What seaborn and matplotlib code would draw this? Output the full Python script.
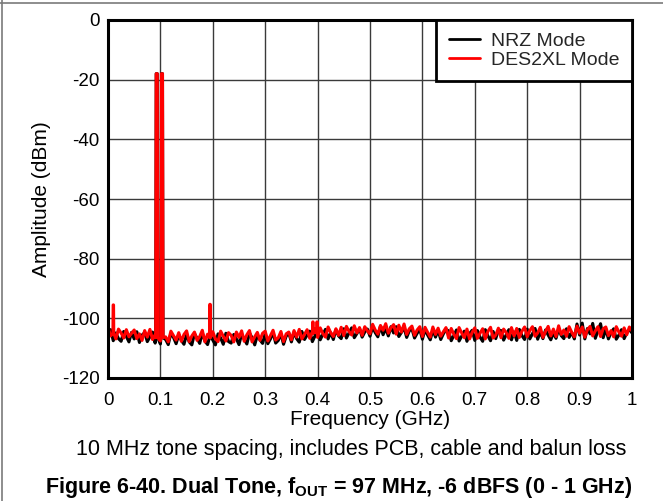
import numpy as np
import pandas as pd
import matplotlib
matplotlib.use("Agg")
import matplotlib.pyplot as plt
import seaborn as sns
from matplotlib.lines import Line2D

# ---------------- data ----------------
grid_freq = np.linspace(0.0, 1.0, 201)  # GHz, 5 MHz grid

des_noise = [
    -103.0, -105.9, -104.4, -106.9, -103.6, -104.9, -106.6, -103.8, -106.2, -105.0,
    -103.9, -106.8, -105.2, -107.4, -104.1, -106.3, -103.7, -107.1, -105.5, -104.4,
    -107.6, -104.6, -106.2, -107.9, -104.3, -105.8, -107.3, -104.8, -107.7, -105.4,
    -104.2, -107.8, -105.9, -104.6, -107.4, -106.1, -104.0, -107.9, -105.3, -107.2,
    -104.5, -106.9, -107.8, -104.3, -106.0, -107.6, -104.8, -105.7, -107.9, -104.6,
    -106.4, -104.2, -107.7, -105.5, -104.1, -107.9, -106.2, -104.7, -107.4, -105.0,
    -104.3, -107.6, -105.8, -104.0, -107.3, -106.5, -104.4, -107.8, -105.2, -104.6,
    -107.2, -104.1, -106.3, -103.7, -106.9, -105.4, -103.8, -106.7, -104.6, -103.6,
    -106.4, -103.2, -105.1, -106.3, -102.9, -104.8, -106.1, -103.5, -105.7, -103.0,
    -105.8, -102.7, -104.4, -105.6, -102.5, -104.9, -103.1, -105.7, -102.8, -104.2,
    -105.2, -102.0, -103.9, -105.3, -102.4, -104.0, -101.8, -105.0, -103.2, -102.1,
    -105.3, -102.3, -104.6, -101.9, -105.4, -103.5, -102.6, -105.7, -103.9, -102.8,
    -106.1, -103.0, -104.7, -106.3, -102.9, -105.4, -103.3, -106.0, -104.5, -103.1,
    -106.6, -103.4, -105.3, -106.8, -103.1, -104.9, -106.5, -103.6, -106.9, -104.7,
    -103.2, -106.7, -105.0, -103.5, -106.9, -104.4, -103.0, -106.6, -105.6, -103.3,
    -106.5, -103.6, -104.8, -106.7, -103.1, -105.9, -103.4, -106.4, -104.3, -102.9,
    -106.2, -104.1, -102.8, -106.0, -104.9, -103.0, -106.4, -104.4, -102.7, -105.9,
    -103.6, -106.1, -102.5, -105.4, -103.9, -106.0, -102.8, -104.7, -106.2, -102.6,
    -105.0, -102.9, -106.3, -103.8, -102.7, -105.9, -104.2, -102.8, -106.1, -103.5,
    -102.9, -105.8, -104.1, -106.2, -102.8, -104.6, -106.0, -103.2, -105.5, -102.9,
    -104.2,
]

nrz_noise = [
    -105.6, -103.8, -107.5, -104.9, -106.8, -107.7, -104.4, -106.1, -107.9, -104.7,
    -106.9, -104.5, -108.1, -105.6, -104.8, -107.8, -106.2, -104.6, -108.3, -105.3,
    -108.6, -105.2, -107.1, -108.8, -105.0, -106.4, -108.5, -105.5, -107.4, -108.7,
    -105.3, -107.9, -108.9, -105.1, -106.7, -108.4, -104.9, -107.6, -108.8, -105.6,
    -107.3, -108.9, -105.2, -106.6, -108.7, -105.0, -107.8, -108.3, -105.4, -106.9,
    -108.8, -105.3, -107.0, -108.6, -104.9, -106.5, -108.9, -105.7, -107.2, -108.4,
    -105.1, -108.5, -106.9, -104.8, -108.3, -107.4, -105.2, -108.7, -106.0, -104.9,
    -107.9, -104.7, -106.8, -108.0, -104.4, -107.1, -105.6, -104.3, -107.8, -105.9,
    -104.0, -107.2, -105.4, -103.7, -106.9, -104.8, -107.1, -103.8, -105.9, -106.8,
    -103.5, -106.6, -104.9, -103.2, -106.5, -105.1, -103.4, -106.3, -104.6, -103.6,
    -106.0, -102.9, -104.8, -106.2, -102.6, -105.5, -103.4, -105.9, -102.8, -104.9,
    -102.8, -106.1, -104.7, -103.1, -106.4, -104.2, -103.5, -106.6, -105.0, -103.7,
    -107.0, -103.8, -105.6, -107.2, -103.9, -106.3, -104.0, -107.1, -105.2, -103.7,
    -104.2, -107.5, -105.8, -103.9, -107.6, -106.0, -104.3, -107.7, -105.1, -104.0,
    -107.4, -104.1, -106.3, -107.7, -103.8, -105.9, -107.5, -104.4, -106.8, -103.9,
    -104.1, -107.3, -105.5, -103.8, -107.2, -104.6, -107.4, -103.7, -105.8, -107.1,
    -103.6, -106.9, -105.2, -103.4, -107.0, -104.5, -106.8, -103.9, -105.6, -107.2,
    -104.9, -106.7, -103.6, -105.8, -106.8, -103.5, -106.4, -104.7, -106.9, -101.9,
    -105.6, -101.6, -106.9, -103.4, -105.2, -101.7, -106.7, -104.1, -101.8, -106.5,
    -103.6, -106.9, -104.8, -103.5, -107.0, -105.6, -103.8, -106.8, -104.9, -103.7,
    -104.9,
]

# two test tones (GHz, dBm)
tone_freq = [0.093, 0.103]
tone_peak = [-18.0, -18.0]
tone_base = [-106.5, -106.5]

# spurs on the DES2XL trace (GHz, dBm)
spur_freq = [0.0102, 0.1947, 0.391, 0.399]
spur_peak = [-95.5, -95.3, -101.2, -101.2]
spur_base = [-105.0, -106.5, -105.0, -105.0]

x_ticks = [0.0, 0.1, 0.2, 0.3, 0.4, 0.5, 0.6, 0.7, 0.8, 0.9, 1.0]
x_tick_labels = ["0", "0.1", "0.2", "0.3", "0.4", "0.5", "0.6", "0.7", "0.8", "0.9", "1"]
y_ticks = [0, -20, -40, -60, -80, -100, -120]
y_tick_labels = ["0", "-20", "-40", "-60", "-80", "-100", "-120"]

series_names = ["NRZ Mode", "DES2XL Mode"]
series_colors = ["#000000", "#ff0000"]


def build_trace(noise, spikes):
    """Merge the noise grid with narrow spikes (freq, peak, base, half-width)."""
    pts = []
    spans = [(f - hw, f + hw) for f, _, _, hw in spikes]
    for f, a in zip(grid_freq, noise):
        if any(lo <= f <= hi for lo, hi in spans):
            continue
        pts.append((f, a))
    for f, p, b, hw in spikes:
        pts += [(f - hw, b), (f - hw / 2, p), (f + hw / 2, p), (f + hw, b)]
    pts.sort(key=lambda t: t[0])
    return pts


tone_spikes = [(f, p, b, 0.002) for f, p, b in zip(tone_freq, tone_peak, tone_base)]
spur_spikes = [(f, p, b, 0.0008) for f, p, b in zip(spur_freq, spur_peak, spur_base)]

nrz_pts = build_trace(nrz_noise, tone_spikes)
des_pts = build_trace(des_noise, tone_spikes + spur_spikes)

df = pd.concat([
    pd.DataFrame({"freq": [p[0] for p in nrz_pts], "amp": [p[1] for p in nrz_pts], "series": series_names[0]}),
    pd.DataFrame({"freq": [p[0] for p in des_pts], "amp": [p[1] for p in des_pts], "series": series_names[1]}),
], ignore_index=True)

# ---------------- plot ----------------
sns.set_theme(style="white")
plt.rcParams["font.family"] = ["Liberation Sans", "DejaVu Sans"]
plt.rcParams["mathtext.fontset"] = "custom"
plt.rcParams["mathtext.rm"] = "Liberation Sans"
plt.rcParams["mathtext.bf"] = "Liberation Sans:bold"

W, H = 663, 501
fig = plt.figure(figsize=(W / 100, H / 100), dpi=100)
ax = fig.add_axes([108 / W, 1 - 378 / H, (632 - 108) / W, (378 - 20) / H])

sns.lineplot(data=df, x="freq", y="amp", hue="series", hue_order=series_names,
             palette=series_colors, estimator=None, sort=False, linewidth=2.2,
             ax=ax, legend=False)

ax.set_xlim(0, 1)
ax.set_ylim(-120, 0)
ax.set_xticks(x_ticks)
ax.set_xticklabels(x_tick_labels)
ax.set_yticks(y_ticks)
ax.set_yticklabels(y_tick_labels)
ax.tick_params(axis="both", length=0, labelsize=13.5, colors="black")
ax.tick_params(axis="y", pad=6)
ax.tick_params(axis="x", pad=10)
ax.grid(True, color="#3a3a3a", linewidth=1.0)
ax.set_axisbelow(True)
for s in ax.spines.values():
    s.set_visible(True)
    s.set_color("black")
    s.set_linewidth(2.2)

ax.set_xlabel("Frequency (GHz)", fontsize=15, labelpad=1, color="black")
ax.set_ylabel("Amplitude (dBm)", fontsize=15, labelpad=8, color="black")

handles = [Line2D([0], [0], color=c, lw=2.0) for c in series_colors]
leg = ax.legend(handles, series_names, loc="upper right", borderaxespad=0,
                fancybox=False, framealpha=1, edgecolor="black", fontsize=14,
                handlelength=1.6, handletextpad=0.55, borderpad=0.65,
                labelspacing=0.05)
leg.get_frame().set_linewidth(2.0)

fig.text(0.530, 1 - 450 / H, "10 MHz tone spacing, includes PCB, cable and balun loss",
         ha="center", va="center", fontsize=15.5, color="black")
fig.text(0.511, 1 - 488 / H,
         r"Figure 6-40. Dual Tone, f$_{\mathbf{OUT}}$ = 97 MHz, -6 dBFS (0 - 1 GHz)",
         ha="center", va="center", fontsize=15.5, fontweight="bold", color="black")

# outer frame (top and left edges)
fig.add_artist(Line2D([0, 1], [1 - 2.5 / H, 1 - 2.5 / H], transform=fig.transFigure,
                      color="#7a7a7a", lw=1.2))
fig.add_artist(Line2D([1.5 / W, 1.5 / W], [0, 1], transform=fig.transFigure,
                      color="#7a7a7a", lw=1.2))

fig.savefig("out.png", dpi=100)
